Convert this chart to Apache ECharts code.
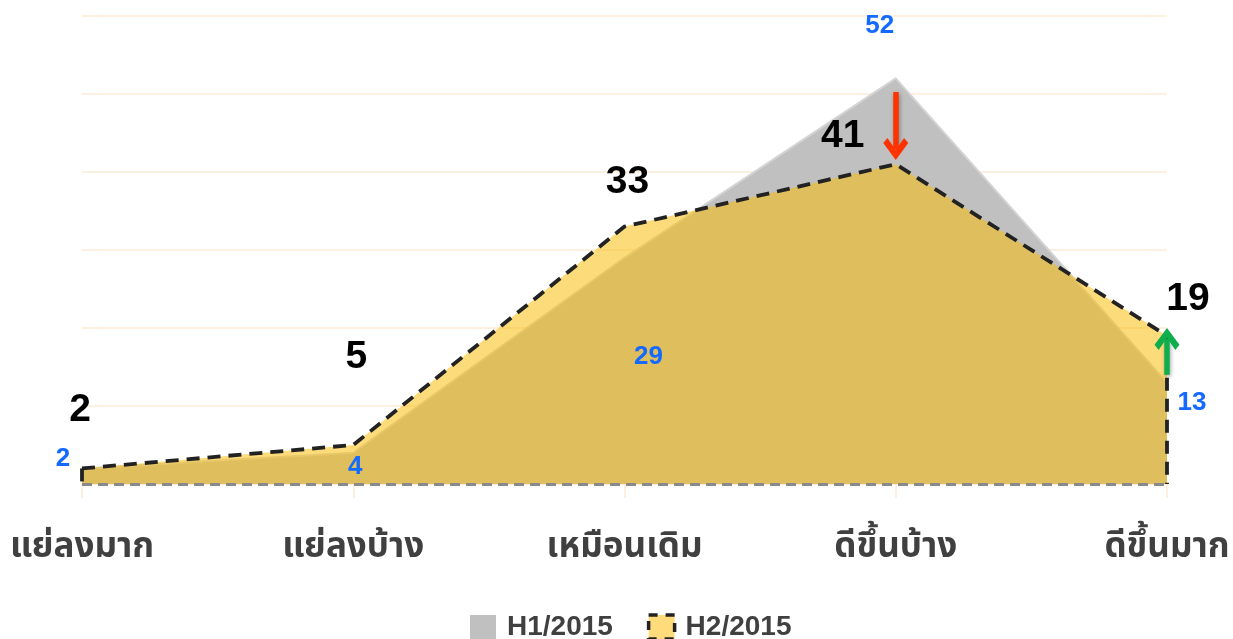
<!DOCTYPE html>
<html>
<head>
<meta charset="utf-8">
<script src="https://cdn.jsdelivr.net/npm/echarts@6/dist/echarts.min.js"></script>
<style>
  html, body { margin: 0; padding: 0; background: #fff; }
  #chart { width: 1233px; height: 639px; }
</style>
</head>
<body>
<div id="chart"></div>
<script>
// ข้อมูล
const categories = ['แย่ลงมาก', 'แย่ลงบ้าง', 'เหมือนเดิม', 'ดีขึ้นบ้าง', 'ดีขึ้นมาก']
const h1Values = [2, 4, 29, 52, 13]
const h2Values = [2, 5, 33, 41, 19]
const seriesNames = ['H1/2015', 'H2/2015']

// ตำแหน่งป้ายกำกับ (เลื่อนจากจุดข้อมูล)
const h1LabelOffsets = [[-19, -10], [2, 14], [24, 99], [-16, -53], [25, 20]]
const h2LabelOffsets = [[-2, -58], [3, -88], [3, -44], [-53, -28], [21, -37]]

const thaiFont = '"Noto Sans Thai", "Noto Sans Thai UI", "Noto Sans", "DejaVu Sans", sans-serif'
const numFont = '"Liberation Sans", Arial, sans-serif'
const gridColor = '#fdebd6'
const dashLine = { color: '#222', width: 3.8, type: [13, 8] }
// หัวลูกศร (ชี้ขึ้น, ECharts หมุนให้ตามทิศเส้น)
const chevron = 'path://M12,0 L24,15 L20,19.5 L12,9 L4,19.5 L0,15 Z'
const arrowShadow = { shadowBlur: 4, shadowColor: 'rgba(0,0,0,0.35)', shadowOffsetX: 1, shadowOffsetY: 2 }

const chart = echarts.init(document.getElementById('chart'))

const option = {
  animation: false,
  grid: { left: 82, right: 66, top: 16, bottom: 155 },
  legend: {
    top: 608,
    left: 465,
    itemWidth: 26,
    itemHeight: 24,
    itemGap: 34,
    textStyle: { fontFamily: numFont, fontWeight: 'bold', fontSize: 28, color: '#404040', padding: [0, 0, 0, 6] },
    data: [
      { name: seriesNames[0], icon: 'rect', itemStyle: { color: '#c0c0c0', opacity: 1, borderWidth: 0 } },
      { name: seriesNames[1], icon: 'rect', itemStyle: { color: '#ffdb7c', opacity: 1, borderColor: '#222', borderWidth: 3.5, borderType: [9, 8] } }
    ]
  },
  xAxis: {
    type: 'category',
    data: categories,
    boundaryGap: false,
    axisLine: { lineStyle: { color: gridColor, width: 1.5 } },
    axisTick: { show: true, length: 14, lineStyle: { color: gridColor, width: 1.5 } },
    axisLabel: { fontFamily: thaiFont, fontSize: 35, color: '#404040', margin: 48, fontWeight: 'bold' }
  },
  yAxis: {
    type: 'value',
    min: 0,
    max: 60,
    interval: 10,
    axisLabel: { show: false },
    axisLine: { show: false },
    axisTick: { show: false },
    splitLine: { lineStyle: { color: gridColor, width: 1.5 } }
  },
  series: [
    {
      name: seriesNames[0],
      type: 'line',
      data: h1Values,
      showSymbol: false,
      itemStyle: { color: '#c0c0c0' },
      lineStyle: { color: '#d4d4d4', width: 2 },
      areaStyle: { color: '#c0c0c0', opacity: 1 },
      z: 2
    },
    {
      name: seriesNames[1],
      type: 'line',
      data: h2Values.map((v, i) => ({
        value: v,
        label: { offset: h2LabelOffsets[i] }
      })),
      symbol: 'circle',
      symbolSize: 0.1,
      showSymbol: true,
      itemStyle: { color: 'transparent' },
      lineStyle: dashLine,
      areaStyle: { color: 'rgba(249,189,11,0.54)', opacity: 1 },
      label: {
        show: true,
        position: 'inside',
        fontFamily: numFont,
        fontWeight: 'bold',
        fontSize: 39,
        color: '#000'
      },
      markLine: {
        silent: true,
        symbol: ['none', 'none'],
        label: { show: false },
        data: [
          // เส้นขอบล่าง
          [
            { coord: [0, 0], lineStyle: { color: '#8a8a8a', width: 3, type: [10, 6] } },
            { coord: [categories.length - 1, 0] }
          ],
          // ขอบซ้าย
          [
            { coord: [0, h2Values[0]], lineStyle: dashLine },
            { coord: [0, 0] }
          ],
          // ขอบขวา
          [
            { coord: [categories.length - 1, h2Values[4]], lineStyle: dashLine },
            { coord: [categories.length - 1, 0] }
          ]
        ]
      },
      z: 3
    },
    {
      // ป้ายตัวเลข H1 (วางไว้บนสุด)
      type: 'line',
      data: h1Values.map((v, i) => ({
        value: v,
        label: { offset: h1LabelOffsets[i] }
      })),
      symbol: 'circle',
      symbolSize: 0.1,
      showSymbol: true,
      itemStyle: { color: 'transparent' },
      lineStyle: { opacity: 0 },
      label: {
        show: true,
        position: 'inside',
        fontFamily: numFont,
        fontWeight: 'bold',
        fontSize: 26,
        color: '#1469ff'
      },
      z: 4
    },
    {
      // ลูกศรแสดงการเปลี่ยนแปลง
      type: 'line',
      data: [],
      markLine: {
        silent: true,
        symbol: ['none', chevron],
        symbolSize: [25, 22],
        label: { show: false },
        data: [
          [
            { coord: [3, h1Values[3] - 1.75], lineStyle: { color: '#ff3300', width: 5.5, type: 'solid', ...arrowShadow }, itemStyle: { color: '#ff3300' } },
            { coord: [3, h2Values[3] + 1.95], itemStyle: { color: '#ff3300' } }
          ],
          [
            { coord: [4, h1Values[4] + 1.0], lineStyle: { color: '#10ad4c', width: 5.5, type: 'solid', ...arrowShadow }, itemStyle: { color: '#10ad4c' } },
            { coord: [4, h2Values[4] - 0.4], itemStyle: { color: '#10ad4c' } }
          ]
        ]
      },
      z: 5
    }
  ]
}

chart.setOption(option)
window.addEventListener('resize', () => chart.resize())
</script>
</body>
</html>
